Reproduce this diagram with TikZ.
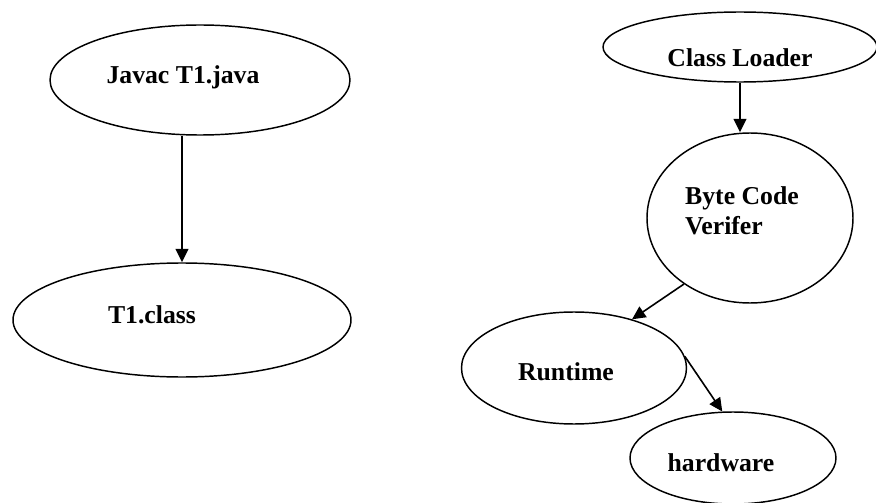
\documentclass[tikz,border=0pt]{standalone}
\usepackage{fontspec}
\setmainfont{Liberation Serif}
\usetikzlibrary{shapes.geometric, arrows.meta}
\tikzstyle{oval} = [ellipse, draw=black, line width=1.1pt, inner sep=0pt]
\tikzstyle{arrow} = [line width=1.2pt, -{Triangle[length=10pt, width=9.5pt]}]

\begin{document}
\begin{tikzpicture}[x=0.75pt, y=0.75pt, every label/.style={font=\fontsize{19.3pt}{22.5pt}\selectfont\bfseries}]
      \useasboundingbox (0,0) rectangle (876,-503);

      % compile side
      \node (javac) [oval, minimum width=225pt, minimum height=82.5pt, label={[anchor=base, xshift=-12.75pt, yshift=2.25pt]center:Javac T1.java}] at (200,-80) {};
      \node (t1class) [oval, below of=javac, node distance=180pt, xshift=-13.5pt, minimum width=253.5pt, minimum height=85.5pt, label={[anchor=base, xshift=-22.5pt, yshift=3.75pt]center:T1.class}] {};

      % run side
      \node (loader) [oval, minimum width=205.5pt, minimum height=52.5pt, label={[anchor=base, yshift=-8.25pt]center:Class Loader}] at (740,-47) {};
      \node (verifier) [oval, below of=loader, node distance=128.25pt, xshift=7.5pt, minimum width=154.5pt, minimum height=127.5pt, label={[align=left, xshift=-6pt, yshift=5.25pt]center:Byte Code\\Verifer}] {};
      \node (runtime) [oval, below of=verifier, node distance=112.5pt, xshift=-132pt, minimum width=168.75pt, minimum height=84pt, label={[anchor=base, xshift=-6pt, yshift=-3pt]center:Runtime}] {};
      \node (hardware) [oval, below of=runtime, node distance=67.5pt, xshift=119.25pt, minimum width=154.5pt, minimum height=69pt, label={[anchor=base, xshift=-9pt, yshift=-3.75pt]center:hardware}] {};

      \draw [arrow] (javac.south -| t1class) -- (t1class.north);
      \draw [arrow] (loader.south) -- (loader.south |- verifier.north);
      \draw [arrow] (verifier.225) -- (runtime.40);
      \draw [arrow] (runtime.6) -- (hardware.103);
    \end{tikzpicture}
\end{document}
